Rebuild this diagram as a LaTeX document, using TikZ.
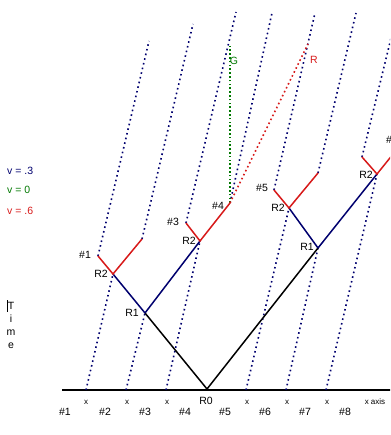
\documentclass[tikz,border=0pt]{standalone}
\usepackage{fontspec}
\setmainfont{Liberation Sans}
\definecolor{nv}{RGB}{0,0,110}
\definecolor{rd}{RGB}{215,25,25}
\definecolor{gr}{RGB}{0,120,0}
\tikzset{
  wl/.style={nv,line width=1.6pt,dash pattern=on 1.6pt off 3.2pt},
  gdot/.style={gr,line width=1.6pt,dash pattern=on 1.6pt off 2.2pt},
  rdot/.style={rd,line width=1.6pt,dash pattern=on 1.6pt off 2.8pt},
  lightray/.style={black,line width=1.5pt},
  navyray/.style={nv,line width=1.5pt},
  redray/.style={rd,line width=1.5pt},
  lbl/.style={inner sep=0pt,font=\fontsize{10.5}{12}\selectfont},
  small/.style={inner sep=0pt,font=\fontsize{8}{9}\selectfont}
}
\begin{document}
\begin{tikzpicture}[x=1pt,y=-1pt]
\useasboundingbox (0,0) rectangle (390,435);
\clip (0,0) rectangle (390,435);
% events
\coordinate (A0) at (86,390);
\coordinate (B0) at (126,390);
\coordinate (C0) at (166,390);
\coordinate (D0) at (246,390);
\coordinate (E0) at (286,390);
\coordinate (F0) at (326,390);
\coordinate (R0) at (207,389);
\coordinate (L1) at (145,313);
\coordinate (L2) at (113,274);
\coordinate (M2) at (200,241);
\coordinate (N2) at (289,208);
\coordinate (Q1) at (318,248);
\coordinate (P2) at (377,174);
\coordinate (S1) at (98,256);
\coordinate (U1) at (142,239);
\coordinate (S3) at (186,223);
\coordinate (U3) at (230,203);
\coordinate (S5) at (274,190);
\coordinate (U5) at (318,173);
\coordinate (S7) at (362,157);
\coordinate (U7) at (402,143);
\coordinate (T1) at (149,41);
\coordinate (T2) at (193,24);
\coordinate (T3) at (236,12);
\coordinate (T4) at (272,13);
\coordinate (T5) at (315,13);
\coordinate (T6) at (356,13);
\coordinate (T7) at (393,30);
\coordinate (G1) at (230,45);
\coordinate (RR) at (308,44);
\coordinate (X0) at (62,390);
\coordinate (X1) at (392,390);
% axis
\draw[black,line width=2pt] (X0) -- (X1);
% world lines from axis to events
\draw[wl] (A0) -- (L2);
\draw[wl] (B0) -- (L1);
\draw[wl] (C0) -- (M2);
\draw[wl] (D0) -- (N2);
\draw[wl] (E0) -- (Q1);
\draw[wl] (F0) -- (P2);
% world lines after events
\draw[wl] (S1) -- (T1);
\draw[wl] (U1) -- (T2);
\draw[wl] (S3) -- (T3);
\draw[wl] (U3) -- (T4);
\draw[wl] (S5) -- (T5);
\draw[wl] (U5) -- (T6);
\draw[wl] (S7) -- (T7);
% green and red
\draw[gdot] (U3) -- (G1);
\draw[rdot] (U3) -- (RR);
% light rays
\draw[lightray] (R0) -- (L1);
\draw[lightray] (R0) -- (Q1);
\draw[navyray] (L1) -- (L2);
\draw[navyray] (L1) -- (M2);
\draw[navyray] (Q1) -- (N2);
\draw[navyray] (Q1) -- (P2);
\draw[redray] (S1) -- (L2) -- (U1);
\draw[redray] (S3) -- (M2) -- (U3);
\draw[redray] (S5) -- (N2) -- (U5);
\draw[redray] (S7) -- (P2) -- (U7);
% labels
\node[lbl] (n1) at (85,255) {\#1};
\node[lbl] (r2a) at (101,274) {R2};
\node[lbl] (r1a) at (132,313) {R1};
\node[lbl] (n3) at (173,222) {\#3};
\node[lbl] (r2b) at (189,241) {R2};
\node[lbl] (n4) at (218,206) {\#4};
\node[lbl] (n5) at (262,188) {\#5};
\node[lbl] (r2c) at (278,208) {R2};
\node[lbl] (r1b) at (307,247) {R1};
\node[lbl] (r2d) at (366,175) {R2};
\node[lbl,anchor=west] (n8) at (386,140) {\#8};
\node[lbl,gr] (gl) at (234,61) {G};
\node[lbl,rd] (rl) at (314,60) {R};
% legend
\node[lbl,nv,anchor=west] (v1) at (7,171) {v = .3};
\node[lbl,gr,anchor=west] (v2) at (7,190) {v = 0};
\node[lbl,rd,anchor=west] (v3) at (7,211) {v = .6};
% time
\draw[black,line width=0.8pt] (7.5,300) -- (7.5,312);
\node[lbl] (t1) at (11,306) {T};
\node[lbl] (t2) at (11,319) {i};
\node[lbl] (t3) at (11,333) {m};
\node[lbl] (t4) at (11,346) {e};
% bottom
\foreach \xx [count=\i] in {86,127,167,247,287,327}
  \node[small] (xm\i) at (\xx,402) {x};
\node[lbl] (r0l) at (206,401) {R0};
\node[small] (xax) at (375,402) {x axis};
\foreach \xx [count=\i] in {65,105,145,185,225,265,305,345}
  \node[lbl] (h\i) at (\xx,412) {\#\i};
\end{tikzpicture}
\end{document}
